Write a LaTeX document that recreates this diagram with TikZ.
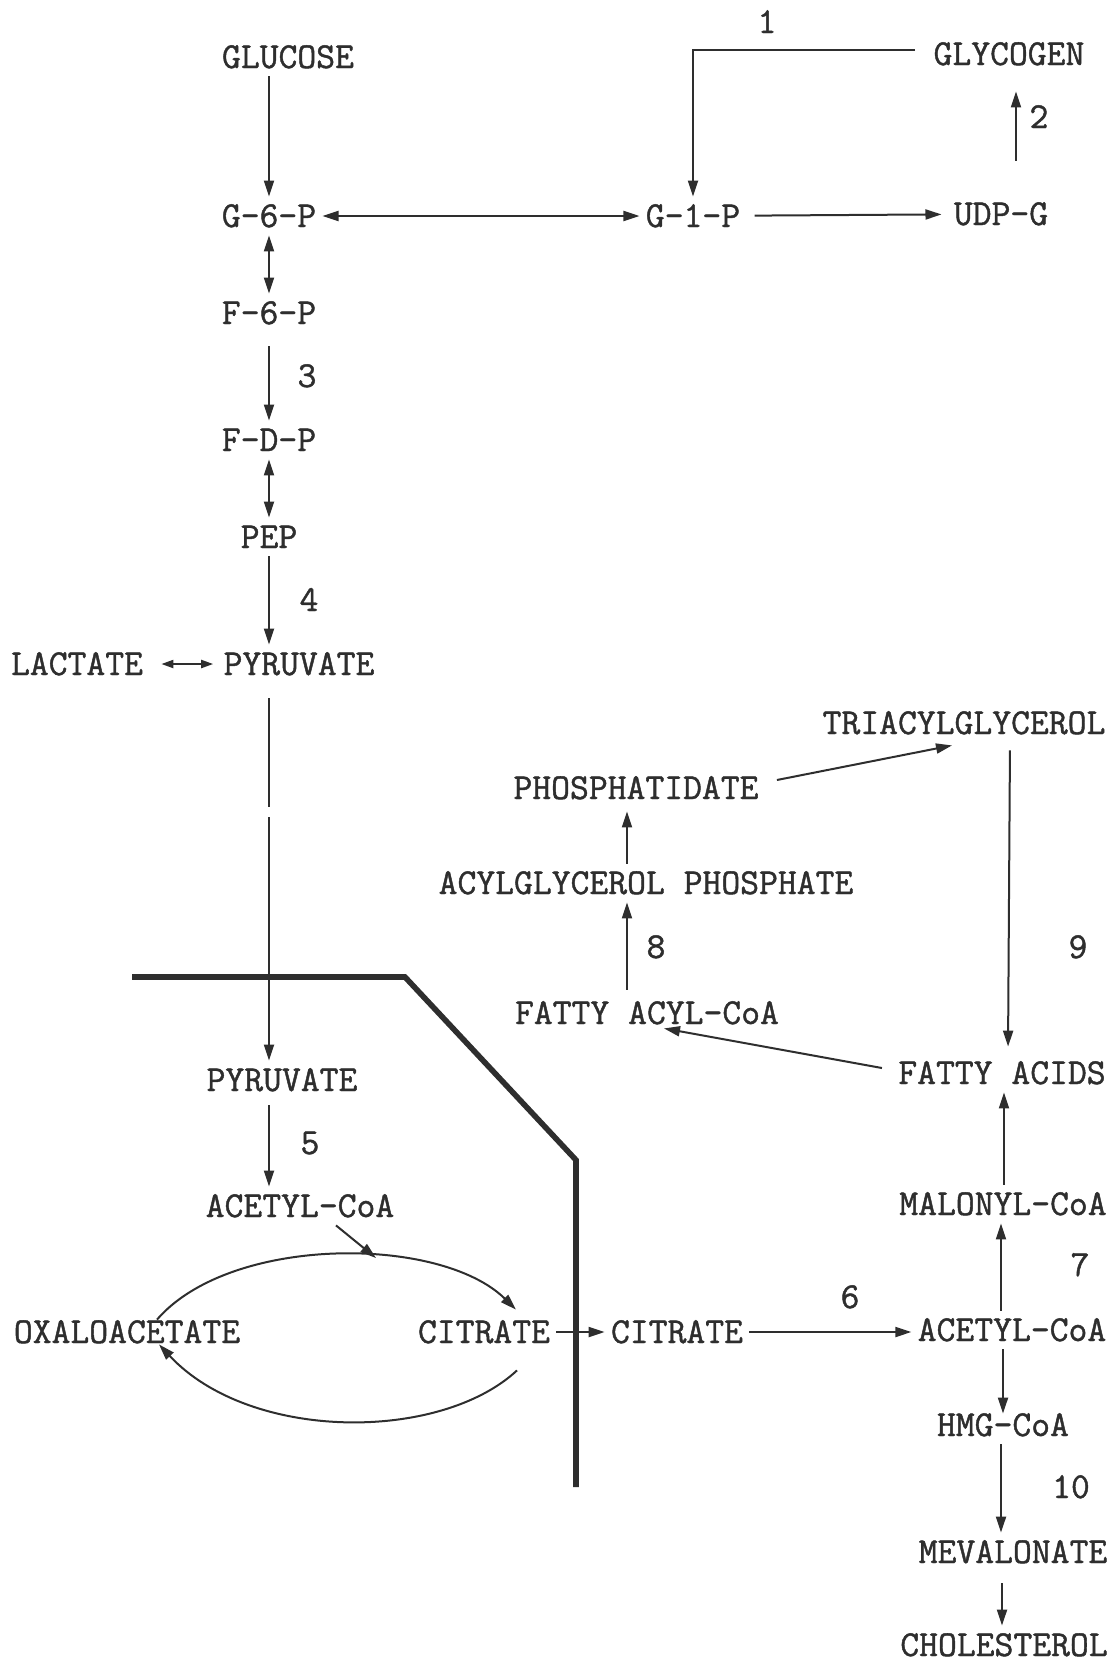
\documentclass[tikz,border=0pt]{standalone}
\usepackage{fontspec}
\usetikzlibrary{arrows.meta}
\newfontfamily\typewr{Latin Modern Mono}[RawFeature={embolden=1.2}]
\definecolor{ink}{HTML}{2E2E2E}
\tikzset{
  lbl/.style={font=\typewr\fontsize{18.3}{20}\selectfont, inner xsep=3pt, inner ysep=4pt, text height=11pt, text depth=0pt, text=ink},
  num/.style={lbl},
  tip/.tip={Triangle[length=8pt,width=5pt]},
  arr/.style={draw=ink, line width=1pt, -tip},
  darr/.style={draw=ink, line width=1pt, tip-tip},
  ln/.style={draw=ink, line width=1pt},
  membrane/.style={draw=ink, line width=2.8pt, line join=miter}
}
\begin{document}
\begin{tikzpicture}[x=0.5pt,y=-0.5pt]
\useasboundingbox (0,0) rectangle (1114,1662);
% ---------- nodes ----------
\node[lbl] (glucose) at (288,57) {GLUCOSE};
\node[lbl] (g6p) at (269,216) {G-6-P};
\node[lbl] (g1p) at (693,216) {G-1-P};
\node[lbl] (udpg) at (1001,214) {UDP-G};
\node[lbl] (glycogen) at (1009,54) {GLYCOGEN};
\node[lbl] (f6p) at (269,313) {F-6-P};
\node[lbl] (fdp) at (269,440) {F-D-P};
\node[lbl] (pep) at (269,537) {PEP};
\node[lbl] (lactate) at (77,664) {LACTATE};
\node[lbl] (pyr) at (299,664) {PYRUVATE};
\node[lbl] (pyr2) at (282,1080) {PYRUVATE};
\node[lbl] (acoa1) at (300,1206) {ACETYL-CoA};
\node[lbl] (oaa) at (127,1332) {OXALOACETATE};
\node[lbl] (cit1) at (484,1332) {CITRATE};
\node[lbl] (cit2) at (677,1332) {CITRATE};
\node[lbl] (acoa2) at (1012,1330) {ACETYL-CoA};
\node[lbl] (malcoa) at (1003,1204) {MALONYL-CoA};
\node[lbl] (hmg) at (1003,1425) {HMG-CoA};
\node[lbl] (mev) at (1013,1552) {MEVALONATE};
\node[lbl] (chol) at (1004,1645) {CHOLESTEROL};
\node[lbl] (fa) at (1002,1073) {FATTY ACIDS};
\node[lbl] (tag) at (964,723) {TRIACYLGLYCEROL};
\node[lbl] (phos) at (636,788) {PHOSPHATIDATE};
\node[lbl] (agp) at (646,883) {ACYLGLYCEROL PHOSPHATE};
\node[lbl] (facoa) at (647,1013) {FATTY ACYL-CoA};
% ---------- step numbers ----------
\node[num] (n1) at (767,22) {1};
\node[num] (n2) at (1039,117) {2};
\node[num] (n3) at (307,376) {3};
\node[num] (n4) at (309,600) {4};
\node[num] (n5) at (310,1143) {5};
\node[num] (n6) at (850,1297) {6};
\node[num] (n7) at (1080,1265) {7};
\node[num] (n8) at (656,947) {8};
\node[num] (n9) at (1078,947) {9};
\node[num] (n10) at (1071,1487) {10};
% ---------- membrane ----------
\coordinate (m1) at (132,977);
\coordinate (m2) at (405,977);
\coordinate (m3) at (576,1160);
\coordinate (m4) at (576,1487);
\draw[membrane] (m1) -- (m2) -- (m3) -- (m4);
% ---------- glycolysis ----------
\draw[arr] (glucose.south -| g6p) -- (g6p);
\draw[darr] (g6p) -- (g1p);
\draw[arr, shorten <=4pt, shorten >=3pt] (g1p) -- (udpg);
\draw[arr, shorten <=17pt, shorten >=9pt] (udpg.north -| 1016,0) -- (glycogen.south -| 1016,0);
\draw[arr] ([xshift=-6pt,yshift=2pt]glycogen.west) -| (g1p);
\draw[darr] (g6p) -- (f6p);
\draw[arr, shorten <=7pt] (f6p) -- (fdp);
\draw[darr] (fdp) -- (pep);
\draw[arr] (pep) -- (pyr.north -| pep);
\draw[darr, shorten <=6pt, shorten >=2pt, {Triangle[length=6pt,width=4pt]}-{Triangle[length=6pt,width=4pt]}] (lactate) -- (pyr);
% pyruvate into mitochondrion (broken line)
\coordinate (gapA) at (269,807);
\coordinate (gapB) at (269,817);
\draw[ln, shorten <=7.5pt] (pyr.south -| gapA) -- (gapA);
\draw[arr] (gapB) -- (pyr2.north -| gapB);
\draw[arr, shorten <=3pt] (pyr2.south -| gapB) -- (acoa1.north -| gapB);
% citrate cycle
\coordinate (ctip) at (376,1258);
\draw[arr] ([xshift=18pt]acoa1.south) -- (ctip);
\draw[arr] ([xshift=15pt,yshift=-3.5pt]oaa.north) .. controls (230,1235) and (440,1235) .. ([xshift=16pt,yshift=1.5pt]cit1.north);
\draw[arr] ([xshift=16.5pt,yshift=-9.5pt]cit1.south) .. controls (440,1442) and (250,1442) .. ([xshift=16pt,yshift=3.5pt]oaa.south);
\draw[arr] (cit1) -- (cit2);
\draw[arr] (cit2) -- (acoa2.west |- cit2);
% cholesterol branch
\draw[arr] (acoa2.north -| 1001,0) -- (malcoa.south -| 1001,0);
\draw[arr, shorten >=-4pt] (acoa2.south -| 1003,0) -- (hmg.north -| 1003,0);
\draw[arr] (hmg.south -| 1001,0) -- (mev.north -| 1001,0);
\draw[arr, shorten <=6pt] (mev.south -| 1002,0) -- (chol.north -| 1002,0);
% fatty acid / lipid branch
\draw[arr] (malcoa.north -| 1004,0) -- (fa.south -| 1004,0);
\draw[arr, shorten <=4pt, shorten >=3.5pt] (tag.south -| 1010,0) -- (fa.north -| 1008,0);
\draw[arr] ([xshift=-5pt,yshift=2.5pt]fa.west) -- ([xshift=8.5pt,yshift=2pt]facoa.south);
\draw[arr, shorten <=2pt] (facoa.north -| 627,0) -- (agp.south -| 627,0);
\draw[arr, shorten >=2pt] (agp.north -| 627,0) -- (phos.south -| 627,0);
\draw[arr] ([xshift=6pt,yshift=4pt]phos.east) -- ([xshift=-6pt,yshift=-1.5pt]tag.south);
\end{tikzpicture}
\end{document}
